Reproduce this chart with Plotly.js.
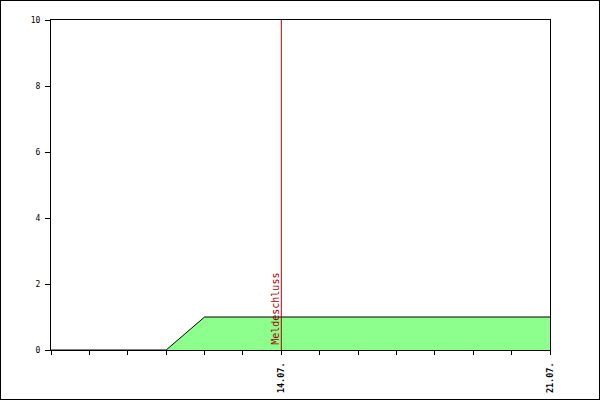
<!DOCTYPE html>
<html>
<head>
<meta charset="utf-8">
<script src="https://cdn.plot.ly/plotly-3.0.1.min.js"></script>
<style>
body { margin: 0; background: #fff; }
#chart_area { width: 600px; height: 400px; box-sizing: border-box; border: 1px solid #000; }
</style>
</head>
<body>
<div id="chart_area"></div>
<script>
// days shown on the x axis
var days = ['08.07.', '09.07.', '10.07.', '11.07.', '12.07.', '13.07.', '14.07.',
            '15.07.', '16.07.', '17.07.', '18.07.', '19.07.', '20.07.', '21.07.'];
// registrations per day
var entries = [0, 0, 0, 0, 1, 1, 1, 1, 1, 1, 1, 1, 1, 1];
// only these days get a label
var labelledDays = ['14.07.', '21.07.'];
var deadline = '14.07.';
var deadlineText = 'Meldeschluss';

var tickText = days.map(function (d) { return labelledDays.indexOf(d) >= 0 ? d : ''; });

var data = [{
    x: days,
    y: entries,
    type: 'scatter',
    mode: 'lines',
    fill: 'tozeroy',
    fillcolor: 'rgb(140, 255, 140)',
    line: { color: '#000', width: 1 },
    hoverinfo: 'none'
}];

var layout = {
    width: 598,
    height: 398,
    margin: { l: 50, r: 49, t: 19, b: 49 },
    showlegend: false,
    paper_bgcolor: '#fff',
    plot_bgcolor: '#fff',
    font: { family: 'DejaVu Sans Mono', size: 8, color: '#000' },
    xaxis: {
        type: 'category',
        range: [0, days.length - 1],
        tickmode: 'array',
        tickvals: days,
        ticktext: tickText,
        tickangle: -90,
        ticks: 'outside',
        ticklen: 4,
        tickcolor: '#000',
        ticklabelstandoff: 4,
        showgrid: false,
        zeroline: false,
        showline: true,
        linecolor: '#000',
        linewidth: 1,
        mirror: true,
        tickfont: { family: 'DejaVu Sans Mono', size: 8.5, color: '#000', weight: 'bold' }
    },
    yaxis: {
        range: [0, 10],
        dtick: 2,
        ticks: 'outside',
        ticklen: 5,
        tickcolor: '#000',
        ticklabelstandoff: 3,
        showgrid: false,
        zeroline: false,
        showline: true,
        linecolor: '#000',
        linewidth: 1,
        mirror: true,
        tickfont: { family: 'DejaVu Sans Mono', size: 8, color: '#000' }
    },
    shapes: [{
        type: 'line',
        xref: 'x', yref: 'paper',
        x0: deadline, x1: deadline, y0: 0, y1: 1,
        line: { color: '#b00000', width: 1 }
    }],
    annotations: [{
        xref: 'x', yref: 'y',
        x: deadline, y: 0,
        text: deadlineText,
        textangle: -90,
        showarrow: false,
        xanchor: 'right',
        yanchor: 'bottom',
        xshift: 1,
        yshift: 3,
        font: { family: 'DejaVu Sans Mono', size: 10, color: '#a00000' }
    }]
};

var config = { displayModeBar: false, staticPlot: true };

Plotly.newPlot('chart_area', data, layout, config);
</script>
</body>
</html>
